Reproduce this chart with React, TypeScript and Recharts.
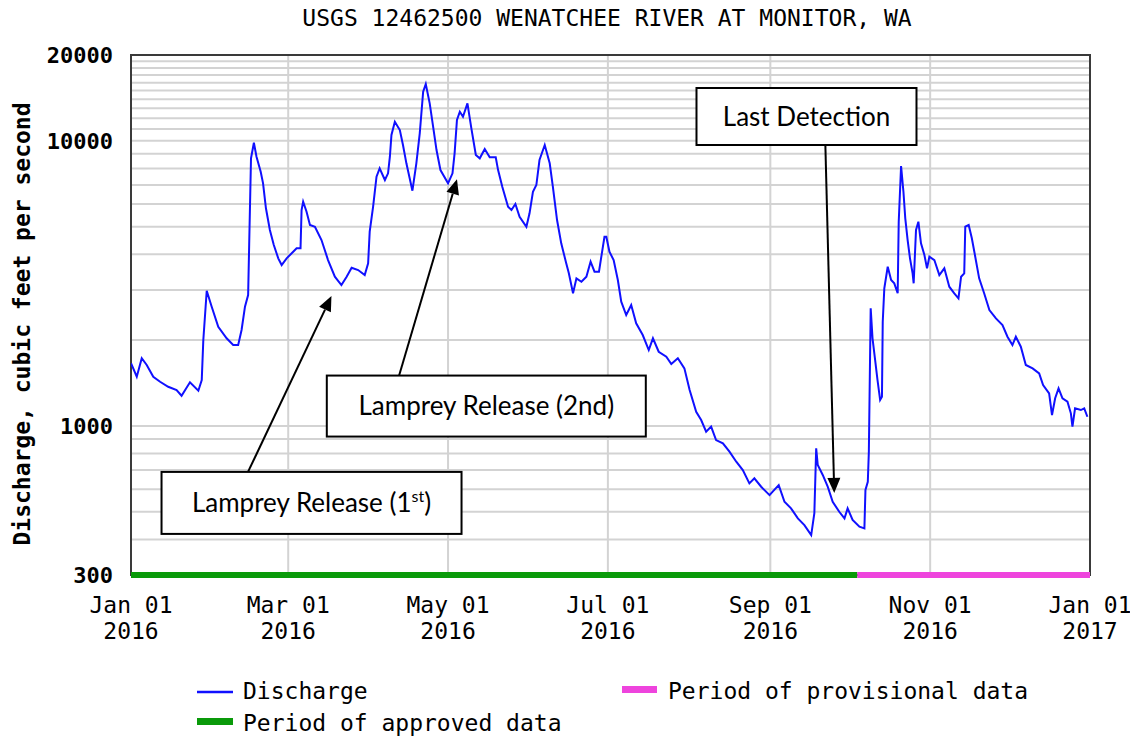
import React from 'react';
import {
  LineChart,
  Line,
  XAxis,
  YAxis,
  CartesianGrid,
  ReferenceLine,
  ReferenceArea,
  ReferenceDot,
} from 'recharts';

// ---------- texts ----------
const TITLE = 'USGS 12462500 WENATCHEE RIVER AT MONITOR, WA';
const Y_LABEL = 'Discharge, cubic feet per second';

// ---------- discharge series (day of year 2016, cfs) ----------
const days = [
  0, 2.2, 4.1, 6.0, 8.5, 11.1, 14.2, 17.4, 19.3, 22.5, 25.7, 27.0, 27.6, 28.9, 30.8, 33.3, 36.5, 39.0, 40.9,
  42.2, 43.5, 44.7, 45.1, 45.8, 46.9, 47.9, 49.5, 50.4, 51.5, 53.0, 54.5, 56.2, 57.5, 59.4, 61.9, 63.2, 64.7,
  65.1, 65.7, 67.0, 68.3, 70.2, 72.7, 75.2, 77.8, 80.3, 82.3, 84.2, 86.7, 89.2, 90.5, 91.1, 92.4, 93.7, 94.9,
  96.9, 98.1, 98.8, 99.4, 100.7, 102.6, 103.8, 105.1, 107.4, 108.9, 110.2, 111.5, 112.5, 114.0, 115.3, 116.6,
  118.1, 121.0, 122.7, 123.5, 124.4, 125.5, 126.7, 128.4, 129.9, 131.6, 133.1, 135.0, 136.9, 139.2, 140.1,
  141.7, 143.9, 145.2, 146.7, 148.3, 150.9, 152.1, 153.4, 154.7, 155.9, 157.9, 159.8, 161.0, 162.6, 164.2,
  166.1, 167.1, 168.7, 170.0, 171.9, 173.8, 175.4, 176.9, 178.6, 179.5, 180.7, 181.4, 182.6, 184.2, 185.8,
  187.1, 189.0, 190.9, 192.8, 195.3, 197.6, 199.2, 201.4, 204.3, 206.2, 208.7, 211.2, 213.2, 215.7, 217.6,
  219.5, 221.4, 223.3, 225.9, 228.4, 231.0, 233.5, 236.0, 237.9, 240.5, 243.7, 244.9, 247.2, 249.4, 251.9,
  254.5, 257.0, 259.6, 260.8, 261.5, 262.1, 264.0, 265.9, 267.8, 270.3, 272.3, 273.5, 275.4, 278.0, 279.9,
  280.3, 281.2, 281.6, 282.3, 283.0, 284.0, 284.9, 285.9, 286.6, 286.9, 287.5, 288.8, 290.1, 291.3, 292.6,
  293.0, 293.9, 294.8, 295.5, 296.4, 297.3, 298.3, 298.7, 299.6, 300.5, 301.5, 302.8, 303.8, 304.7, 306.6,
  308.5, 310.4, 312.3, 314.2, 315.8, 316.8, 318.0, 318.4, 319.7, 320.9, 322.2, 323.7, 325.6, 327.6, 330.1,
  332.6, 334.5, 336.4, 337.7, 339.6, 341.5, 344.1, 346.6, 348.1, 350.4, 351.5, 352.7, 354.0, 355.5, 357.4,
  358.7, 359.3, 360.3, 362.5, 363.8, 365.0,
];
const discharge = [
  1659, 1488, 1727, 1636, 1488, 1429, 1372, 1336, 1276, 1422, 1329, 1449, 2001, 2980, 2619, 2228, 2029, 1922, 1922,
  2170, 2619, 2878, 4311, 8681, 9847, 8795, 7789, 7094, 5799, 4866, 4311, 3871, 3667, 3871, 4083, 4197, 4197,
  5720, 6114, 5641, 5067, 4997, 4487, 3818, 3337, 3121, 3337, 3588, 3522, 3383, 3718, 4800, 5875, 7482, 8009,
  7287, 7691, 8795, 10480, 11667, 10911, 9667, 8339, 6683, 8339, 10624, 14869, 15820, 13536, 11206, 9284,
  7897, 7094, 7691, 9042, 11830, 12650, 12148, 13536, 11063, 8917, 8681, 9359, 8752, 8752, 7897,
  6902, 5875, 5720, 6001, 5417, 4997, 5568, 6629, 6998, 8564, 9667, 8339, 6902, 5275, 4370,
  3718, 3429, 2919, 3294, 3205, 3337, 3766, 3474, 3474, 3922, 4609, 4609, 4083, 3818, 3250,
  2727, 2449, 2655, 2291, 2084, 1846, 2029, 1821, 1749, 1649, 1727, 1592, 1336, 1121, 1049,
  954, 994, 892, 869, 812, 749, 700, 629, 655, 612, 572, 588, 620, 542, 514,
  474, 449, 414, 494, 834, 729, 673, 612, 542, 500, 474, 514, 468, 443, 437,
  596, 637, 812, 2585, 2029, 1702, 1449, 1233, 1266, 2320, 3038, 3617, 3250, 3164, 2919,
  5202, 8158, 6629, 5348, 4487, 3871, 3429, 3164, 4866, 5202, 4370, 3975, 3571, 3922, 3818,
  3383, 3571, 3079, 2919, 2803, 3337, 3429, 4997, 5067, 4550, 3922, 3294, 2919, 2550, 2384,
  2259, 2056, 1922, 2056, 1896, 1636, 1592, 1529, 1391, 1301, 1092, 1250, 1355, 1250, 1216,
  1107, 994, 1153, 1137, 1153, 1077,
];

// ---------- axes ----------
const xTicks = [0, 60, 121, 182, 244, 305, 366];
const xTickMonths = ['Jan 01', 'Mar 01', 'May 01', 'Jul 01', 'Sep 01', 'Nov 01', 'Jan 01'];
const xTickYears = ['2016', '2016', '2016', '2016', '2016', '2016', '2017'];
const xDomain = [0, 366];
const yTicks = [300, 1000, 10000, 20000];
const yDomain = [300, 20000];
const yGridValues = [
  300, 400, 500, 600, 700, 800, 900, 1000, 2000, 3000, 4000, 5000, 6000, 7000, 8000, 9000, 10000, 11000, 12000,
  13000, 14000, 15000, 16000, 17000, 18000, 19000, 20000,
];

// ---------- data-status periods ----------
const approvedPeriod = [0, 277.2];
const provisionalPeriod = [277.2, 366];

// ---------- annotations ----------
const annotationText = ['Lamprey Release (1', 'Lamprey Release (2nd)', 'Last Detection'];
const annotationSup = ['st', '', ''];
const annotationTail = [')', '', ''];
const annotationDays = [68.9, 135.6, 257.8];
const annotationValues = [537, 1174, 12170];
const arrowFromDays = [44.7, 102.3, 265.0];
const arrowFromValues = [691, 1500, 9667];
const arrowToDays = [76.5, 124.4, 268.4];
const arrowToValues = [2855, 7328, 582];

// ---------- legend ----------
const legendLabels = ['Discharge', 'Period of provisional data', 'Period of approved data'];

// ---------- styles ----------
const MONO = "'DejaVu Sans Mono', monospace";
const BOX_FONT = "Lato, 'Open Sans', sans-serif";
const BLUE = '#1010ff';
const GREEN = '#0a9a0a';
const PINK = '#ee44dd';
const boxWidths = [300, 319, 220];
const boxHeights = [62, 61, 57];

const chartData = days.map((d, i) => ({ day: d, q: discharge[i] }));

const XTick = (props: any) => {
  const { x, y, payload } = props;
  const i = xTicks.indexOf(payload.value);
  return (
    <g>
      <text x={x} y={y + 38} textAnchor="middle" fontFamily={MONO} fontSize={23} fill="#000">
        {xTickMonths[i]}
      </text>
      <text x={x} y={y + 64} textAnchor="middle" fontFamily={MONO} fontSize={23} fill="#000">
        {xTickYears[i]}
      </text>
    </g>
  );
};

const YTick = (props: any) => {
  const { x, y, payload } = props;
  return (
    <text x={x} y={y} dy="0.36em" textAnchor="end" fontFamily={MONO} fontWeight="bold" fontSize={22} fill="#000">
      {payload.value}
    </text>
  );
};

const makeBox = (i: number) => (p: any) => {
  const { cx, cy } = p;
  const w = boxWidths[i];
  const h = boxHeights[i];
  return (
    <g>
      <rect x={cx - w / 2} y={cy - h / 2} width={w} height={h} fill="#fff" stroke="#000" strokeWidth={2} />
      <text x={cx} y={cy} dy="0.35em" textAnchor="middle" fontFamily={BOX_FONT} fontSize={26} fill="#000">
        {annotationText[i]}
        {annotationSup[i] ? (
          <tspan dy={-10} fontSize={16}>
            {annotationSup[i]}
          </tspan>
        ) : null}
        {annotationTail[i] ? <tspan dy={10}>{annotationTail[i]}</tspan> : null}
      </text>
    </g>
  );
};

const Arrow = (p: any) => {
  const { x1, y1, x2, y2 } = p;
  const dx = x2 - x1;
  const dy = y2 - y1;
  const len = Math.hypot(dx, dy) || 1;
  const ux = dx / len;
  const uy = dy / len;
  const hl = 15;
  const hw = 6.5;
  const bx = x2 - ux * hl;
  const by = y2 - uy * hl;
  return (
    <g>
      <line x1={x1} y1={y1} x2={bx} y2={by} stroke="#000" strokeWidth={2} />
      <polygon
        points={`${x2},${y2} ${bx - uy * hw},${by + ux * hw} ${bx + uy * hw},${by - ux * hw}`}
        fill="#000"
      />
    </g>
  );
};

export default function App() {
  return (
    <div style={{ position: 'absolute', left: 0, top: 0, width: 1130, height: 738, background: '#fff' }}>
      <LineChart
        width={1130}
        height={738}
        data={chartData}
        margin={{ top: 55, right: 40, bottom: 103, left: 0 }}
      >
        <CartesianGrid
          horizontalValues={yGridValues}
          verticalValues={xTicks}
          stroke="#d3d3d3"
          strokeWidth={2}
          strokeDasharray=""
        />
        <XAxis
          dataKey="day"
          type="number"
          domain={xDomain}
          ticks={xTicks}
          interval={0}
          height={60}
          axisLine={false}
          tickLine={false}
          tickSize={0}
          tickMargin={0}
          tick={<XTick />}
          allowDataOverflow
        />
        <YAxis
          dataKey="q"
          type="number"
          scale="log"
          domain={yDomain}
          ticks={yTicks}
          interval={0}
          width={131}
          axisLine={false}
          tickLine={false}
          tickSize={0}
          tickMargin={18}
          tick={<YTick />}
          allowDataOverflow
        />
        <Line
          type="linear"
          dataKey="q"
          stroke={BLUE}
          strokeWidth={2}
          dot={false}
          isAnimationActive={false}
        />
        <ReferenceArea
          x1={xDomain[0]}
          x2={xDomain[1]}
          y1={yDomain[0]}
          y2={yDomain[1]}
          fill="none"
          fillOpacity={0}
          stroke="#3a3a3a"
          strokeWidth={2}
          ifOverflow="visible"
        />
        <ReferenceLine
          segment={[
            { x: approvedPeriod[0], y: yDomain[0] },
            { x: approvedPeriod[1], y: yDomain[0] },
          ]}
          stroke={GREEN}
          strokeWidth={6}
          ifOverflow="visible"
        />
        <ReferenceLine
          segment={[
            { x: provisionalPeriod[0], y: yDomain[0] },
            { x: provisionalPeriod[1], y: yDomain[0] },
          ]}
          stroke={PINK}
          strokeWidth={6}
          ifOverflow="visible"
        />
        {annotationText.map((_, i) => (
          <ReferenceLine
            key={`arrow-${i}`}
            segment={[
              { x: arrowFromDays[i], y: arrowFromValues[i] },
              { x: arrowToDays[i], y: arrowToValues[i] },
            ]}
            ifOverflow="visible"
            shape={Arrow}
          />
        ))}
        {annotationText.map((_, i) => (
          <ReferenceDot
            key={`box-${i}`}
            x={annotationDays[i]}
            y={annotationValues[i]}
            r={0}
            ifOverflow="visible"
            shape={makeBox(i)}
          />
        ))}
        <text x={607} y={18} dy="0.36em" textAnchor="middle" fontFamily={MONO} fontSize={23} fill="#000">
          {TITLE}
        </text>
        <text
          x={22}
          y={324}
          dy="0.36em"
          textAnchor="middle"
          fontFamily={MONO}
          fontWeight="bold"
          fontSize={23}
          fill="#000"
          transform="rotate(-90 22 324)"
        >
          {Y_LABEL}
        </text>
        <g>
          <line x1={197} y1={692} x2={233} y2={692} stroke={BLUE} strokeWidth={2.5} />
          <text x={243} y={691} dy="0.36em" fontFamily={MONO} fontSize={23} fill="#000">
            {legendLabels[0]}
          </text>
          <rect x={622} y={686} width={35} height={7} fill={PINK} />
          <text x={668} y={691} dy="0.36em" fontFamily={MONO} fontSize={23} fill="#000">
            {legendLabels[1]}
          </text>
          <rect x={197} y={718} width={36} height={7} fill={GREEN} />
          <text x={243} y={723} dy="0.36em" fontFamily={MONO} fontSize={23} fill="#000">
            {legendLabels[2]}
          </text>
        </g>
      </LineChart>
    </div>
  );
}
